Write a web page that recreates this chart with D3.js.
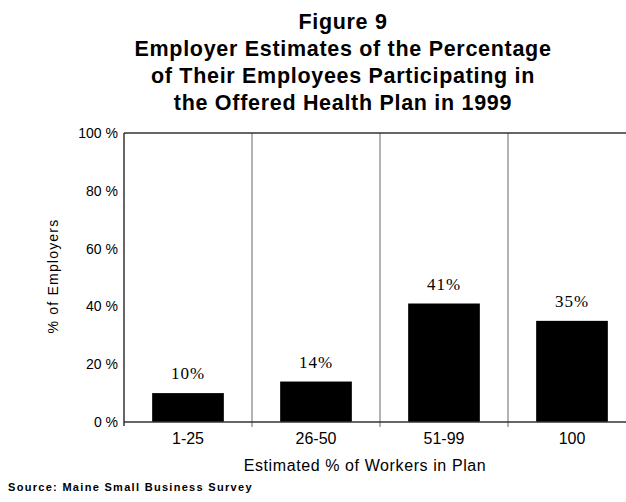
<!DOCTYPE html>
<html>
<head>
<meta charset="utf-8">
<script src="https://cdn.jsdelivr.net/npm/d3@7/dist/d3.min.js"></script>
<style>
  html, body { margin: 0; padding: 0; background: #fff; }
  svg { display: block; }
</style>
</head>
<body>
<svg id="chart" width="626" height="502"></svg>
<script>
// Data
const categories = ["1-25", "26-50", "51-99", "100"];
const values = [10, 14, 41, 35];
const yTicks = [0, 20, 40, 60, 80, 100];
const titleLines = [
  "Figure 9",
  "Employer Estimates of the Percentage",
  "of Their Employees Participating in",
  "the Offered Health Plan in 1999"
];
const xTitle = "Estimated % of Workers in Plan";
const yTitle = "% of Employers";
const sourceNote = "Source: Maine Small Business Survey";

const svg = d3.select("#chart");
const plotLeft = 124, plotRight = 636, plotTop = 133, plotBottom = 422;

const x = d3.scaleBand().domain(categories).range([plotLeft, plotRight]).paddingInner(0).paddingOuter(0);
const y = d3.scaleLinear().domain([0, 100]).range([plotBottom, plotTop]);

// Title
svg.append("g").selectAll("text").data(titleLines).join("text")
  .attr("x", 343)
  .attr("y", (d, i) => 29 + i * 27)
  .attr("text-anchor", "middle")
  .attr("font-family", "Liberation Sans, Arial, sans-serif")
  .attr("font-weight", "bold")
  .attr("font-size", 21.5)
  .attr("letter-spacing", 0.7)
  .attr("fill", "#000")
  .text(d => d);

// Category separators
svg.append("g").selectAll("line").data(categories.slice(1)).join("line")
  .attr("x1", d => x(d)).attr("x2", d => x(d))
  .attr("y1", plotTop).attr("y2", plotBottom + 5)
  .attr("stroke", "#8a8a8a").attr("stroke-width", 1.3);

// Bars
svg.append("g").selectAll("rect").data(values).join("rect")
  .attr("x", (d, i) => x(categories[i]) + x.bandwidth() * 0.22)
  .attr("width", x.bandwidth() * 0.56)
  .attr("y", d => y(d))
  .attr("height", d => y(0) - y(d))
  .attr("fill", "#000");

// Value labels
svg.append("g").selectAll("text").data(values).join("text")
  .attr("x", (d, i) => x(categories[i]) + x.bandwidth() / 2)
  .attr("y", d => y(d) - 14)
  .attr("text-anchor", "middle")
  .attr("font-family", "Liberation Serif, Times New Roman, serif")
  .attr("font-size", 17)
  .attr("letter-spacing", 1)
  .attr("fill", "#000")
  .text(d => d + "%");

// Top frame line and baseline
svg.append("line").attr("x1", plotLeft).attr("x2", 626).attr("y1", plotTop).attr("y2", plotTop)
  .attr("stroke", "#333").attr("stroke-width", 1.5);
svg.append("line").attr("x1", plotLeft).attr("x2", 626).attr("y1", plotBottom).attr("y2", plotBottom)
  .attr("stroke", "#333").attr("stroke-width", 1.5);

// Y axis
const yAxis = d3.axisLeft(y).tickValues(yTicks).tickSize(0).tickPadding(6)
  .tickFormat(d => d + " %");
const gy = svg.append("g").attr("transform", `translate(${plotLeft},0)`).call(yAxis);
gy.select(".domain").attr("stroke", "#333").attr("stroke-width", 1.5)
  .attr("d", `M0,${plotTop}V${plotBottom + 4}`);
gy.selectAll("text")
  .attr("font-family", "Liberation Sans, Arial, sans-serif")
  .attr("font-size", 14)
  .attr("fill", "#000");

// X axis labels
const xAxis = d3.axisBottom(x).tickSize(0).tickPadding(11);
const gx = svg.append("g").attr("transform", `translate(0,${plotBottom})`).call(xAxis);
gx.select(".domain").remove();
gx.selectAll("text")
  .attr("font-family", "Liberation Sans, Arial, sans-serif")
  .attr("font-size", 16)
  .attr("fill", "#000");

// Axis titles
svg.append("text")
  .attr("x", 365).attr("y", 471)
  .attr("text-anchor", "middle")
  .attr("font-family", "Liberation Sans, Arial, sans-serif")
  .attr("font-size", 16)
  .attr("letter-spacing", 0.6)
  .attr("fill", "#000")
  .text(xTitle);

svg.append("text")
  .attr("transform", "translate(58,276) rotate(-90)")
  .attr("text-anchor", "middle")
  .attr("font-family", "Liberation Sans, Arial, sans-serif")
  .attr("font-size", 14)
  .attr("letter-spacing", 1.2)
  .attr("fill", "#000")
  .text(yTitle);

// Source note
svg.append("text")
  .attr("x", 8).attr("y", 491)
  .attr("font-family", "Liberation Sans, Arial, sans-serif")
  .attr("font-weight", "bold")
  .attr("font-size", 11)
  .attr("letter-spacing", 1.3)
  .attr("fill", "#000")
  .text(sourceNote);
</script>
</body>
</html>
